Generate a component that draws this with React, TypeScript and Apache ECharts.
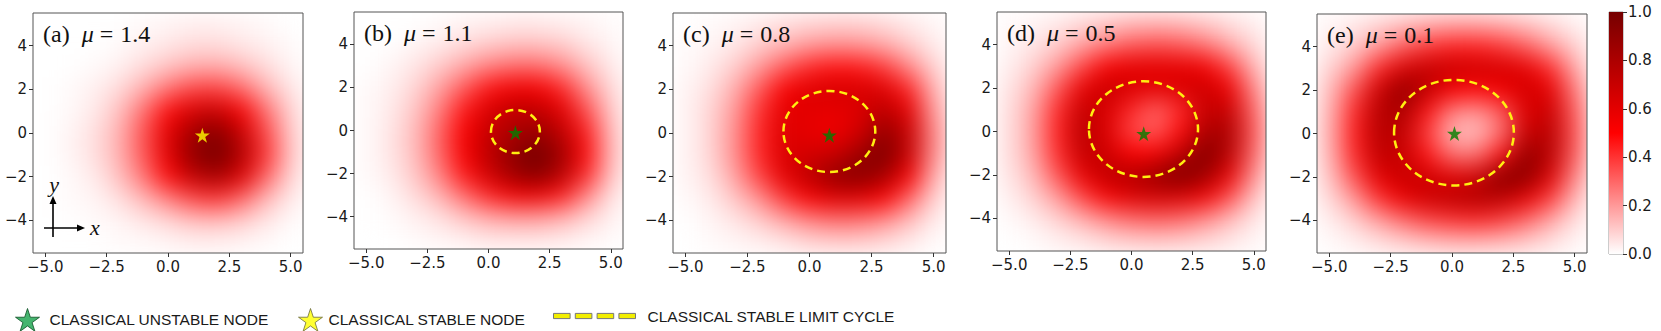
import React, { useEffect, useRef } from 'react';
import * as echarts from 'echarts';

// ---------- data ----------
const panelLabels = ['(a)', '(b)', '(c)', '(d)', '(e)'];
const muValues = ['1.4', '1.1', '0.8', '0.5', '0.1'];

const cellX = [-5, -4, -3, -2, -1, 0, 1, 2, 3, 4, 5];
const cellY = [5, 4, 3, 2, 1, 0, -1, -2, -3, -4, -5];

const xTicks = [-5, -2.5, 0, 2.5, 5];
const yTicks = [-4, -2, 0, 2, 4];
const colorbarTicks = [0, 0.2, 0.4, 0.6, 0.8, 1.0];

// rows: y = 5 ... -5, columns: x = -5 ... 5
const densityA = [
  [0, 0, 0, 0, 0.01, 0.02, 0.03, 0.03, 0.02, 0.01, 0],
  [0, 0, 0, 0.01, 0.03, 0.05, 0.07, 0.07, 0.05, 0.03, 0.01],
  [0, 0, 0.01, 0.03, 0.07, 0.12, 0.16, 0.17, 0.13, 0.07, 0.02],
  [0, 0.01, 0.03, 0.07, 0.16, 0.28, 0.37, 0.38, 0.3, 0.15, 0.05],
  [0, 0.01, 0.04, 0.12, 0.28, 0.48, 0.65, 0.7, 0.52, 0.28, 0.08],
  [0, 0.02, 0.06, 0.15, 0.34, 0.6, 0.84, 0.94, 0.7, 0.36, 0.1],
  [0, 0.02, 0.06, 0.15, 0.33, 0.6, 0.9, 1.0, 0.78, 0.4, 0.11],
  [0, 0.01, 0.04, 0.12, 0.27, 0.48, 0.72, 0.82, 0.62, 0.3, 0.08],
  [0, 0.01, 0.02, 0.06, 0.14, 0.25, 0.36, 0.4, 0.3, 0.14, 0.04],
  [0, 0, 0.01, 0.02, 0.05, 0.08, 0.12, 0.13, 0.1, 0.05, 0.01],
  [0, 0, 0, 0.01, 0.01, 0.02, 0.03, 0.03, 0.02, 0.01, 0],
];
const densityB = [
  [0, 0, 0, 0.01, 0.02, 0.03, 0.04, 0.04, 0.03, 0.02, 0.01],
  [0, 0, 0.02, 0.04, 0.07, 0.1, 0.12, 0.12, 0.1, 0.05, 0.02],
  [0, 0.02, 0.05, 0.1, 0.17, 0.24, 0.28, 0.28, 0.22, 0.12, 0.04],
  [0.01, 0.03, 0.08, 0.18, 0.32, 0.46, 0.54, 0.53, 0.42, 0.22, 0.07],
  [0.01, 0.04, 0.11, 0.25, 0.45, 0.63, 0.72, 0.72, 0.6, 0.34, 0.1],
  [0.01, 0.05, 0.13, 0.3, 0.52, 0.7, 0.8, 0.86, 0.72, 0.44, 0.13],
  [0.01, 0.05, 0.13, 0.3, 0.53, 0.74, 0.9, 1.0, 0.84, 0.48, 0.14],
  [0.01, 0.04, 0.11, 0.25, 0.46, 0.68, 0.86, 0.96, 0.77, 0.43, 0.12],
  [0, 0.02, 0.07, 0.15, 0.29, 0.43, 0.54, 0.56, 0.45, 0.24, 0.06],
  [0, 0.01, 0.03, 0.06, 0.12, 0.17, 0.2, 0.2, 0.16, 0.09, 0.03],
  [0, 0, 0.01, 0.02, 0.03, 0.05, 0.05, 0.05, 0.04, 0.02, 0.01],
];
const densityC = [
  [0, 0.01, 0.02, 0.04, 0.06, 0.08, 0.09, 0.09, 0.07, 0.04, 0.02],
  [0.01, 0.02, 0.05, 0.1, 0.15, 0.2, 0.22, 0.21, 0.17, 0.1, 0.04],
  [0.01, 0.04, 0.1, 0.2, 0.33, 0.43, 0.47, 0.46, 0.39, 0.24, 0.09],
  [0.02, 0.06, 0.16, 0.33, 0.52, 0.62, 0.65, 0.65, 0.62, 0.43, 0.15],
  [0.02, 0.08, 0.2, 0.41, 0.6, 0.6, 0.58, 0.62, 0.75, 0.6, 0.2],
  [0.02, 0.08, 0.22, 0.43, 0.62, 0.58, 0.55, 0.66, 0.9, 0.7, 0.24],
  [0.02, 0.08, 0.22, 0.43, 0.64, 0.66, 0.7, 0.86, 0.98, 0.7, 0.23],
  [0.02, 0.06, 0.18, 0.37, 0.6, 0.75, 0.9, 0.94, 0.82, 0.52, 0.16],
  [0.01, 0.04, 0.11, 0.22, 0.39, 0.52, 0.6, 0.6, 0.5, 0.3, 0.09],
  [0, 0.02, 0.05, 0.1, 0.17, 0.24, 0.28, 0.27, 0.22, 0.13, 0.04],
  [0, 0.01, 0.02, 0.03, 0.05, 0.08, 0.09, 0.09, 0.07, 0.04, 0.01],
];
const densityD = [
  [0.01, 0.02, 0.04, 0.07, 0.1, 0.13, 0.14, 0.13, 0.1, 0.06, 0.03],
  [0.02, 0.05, 0.1, 0.18, 0.26, 0.32, 0.34, 0.32, 0.26, 0.16, 0.07],
  [0.03, 0.09, 0.2, 0.36, 0.52, 0.59, 0.6, 0.59, 0.54, 0.37, 0.14],
  [0.05, 0.14, 0.33, 0.58, 0.7, 0.64, 0.6, 0.64, 0.68, 0.56, 0.23],
  [0.06, 0.18, 0.42, 0.72, 0.64, 0.42, 0.3, 0.42, 0.7, 0.7, 0.3],
  [0.06, 0.19, 0.44, 0.76, 0.62, 0.36, 0.32, 0.48, 0.8, 0.8, 0.33],
  [0.06, 0.18, 0.42, 0.72, 0.68, 0.5, 0.52, 0.72, 0.96, 0.76, 0.3],
  [0.05, 0.14, 0.34, 0.58, 0.74, 0.78, 0.88, 0.98, 0.86, 0.58, 0.22],
  [0.03, 0.09, 0.2, 0.37, 0.52, 0.62, 0.66, 0.64, 0.54, 0.35, 0.12],
  [0.01, 0.04, 0.09, 0.16, 0.24, 0.3, 0.32, 0.3, 0.23, 0.14, 0.05],
  [0, 0.01, 0.03, 0.05, 0.08, 0.1, 0.11, 0.1, 0.08, 0.05, 0.02],
];
const densityE = [
  [0.02, 0.04, 0.08, 0.12, 0.16, 0.18, 0.18, 0.16, 0.12, 0.07, 0.03],
  [0.04, 0.1, 0.2, 0.32, 0.4, 0.44, 0.44, 0.4, 0.32, 0.2, 0.09],
  [0.08, 0.2, 0.42, 0.64, 0.72, 0.7, 0.68, 0.66, 0.6, 0.42, 0.17],
  [0.12, 0.34, 0.68, 0.9, 0.72, 0.52, 0.48, 0.54, 0.66, 0.6, 0.26],
  [0.14, 0.42, 0.76, 0.8, 0.46, 0.24, 0.2, 0.32, 0.62, 0.7, 0.32],
  [0.15, 0.44, 0.76, 0.72, 0.38, 0.14, 0.12, 0.28, 0.7, 0.76, 0.34],
  [0.14, 0.42, 0.72, 0.7, 0.46, 0.28, 0.28, 0.48, 0.9, 0.76, 0.32],
  [0.11, 0.34, 0.6, 0.7, 0.68, 0.62, 0.68, 0.94, 0.92, 0.62, 0.24],
  [0.07, 0.2, 0.4, 0.57, 0.68, 0.74, 0.78, 0.74, 0.58, 0.38, 0.14],
  [0.03, 0.09, 0.18, 0.28, 0.36, 0.4, 0.42, 0.38, 0.29, 0.17, 0.06],
  [0.01, 0.03, 0.06, 0.09, 0.12, 0.14, 0.14, 0.13, 0.1, 0.06, 0.02],
];
const densities = [densityA, densityB, densityC, densityD, densityE];

// classical fixed point (star) in each panel
const nodeX = [1.4, 1.1, 0.8, 0.5, 0.1];
const nodeY = [-0.1, -0.1, -0.1, -0.1, 0.0];
const nodeStable = [true, false, false, false, false];

// classical stable limit cycle (panels b-e)
const cyclePanel = [1, 2, 3, 4];
const cycleCX = [1.1, 0.8, 0.49, 0.08];
const cycleCY = [-0.05, 0.07, 0.11, 0.04];
const cycleRX = [1.0, 1.85, 2.23, 2.44];
const cycleRY = [1.0, 1.86, 2.2, 2.43];

const legendNames = ['CLASSICAL UNSTABLE NODE', 'CLASSICAL STABLE NODE', 'CLASSICAL STABLE LIMIT CYCLE'];

// ---------- layout / style ----------
const W = 1661;
const H = 331;
const PANELS = [
  { left: 33, top: 13, width: 270, height: 240 },
  { left: 354, top: 12, width: 269, height: 237 },
  { left: 673, top: 13, width: 273, height: 240 },
  { left: 997, top: 12, width: 269, height: 239 },
  { left: 1317, top: 14, width: 270, height: 239 },
];
const CBAR = { left: 1609, top: 12, width: 14, height: 242 };
const COLORMAP = ['#ffffff', '#ff0000', '#760000'];
const STAR = 'path://M50 0L61.23 34.55L97.55 34.55L68.16 55.9L79.39 90.45L50 69.1L20.61 90.45L31.84 55.9L2.45 34.55L38.77 34.55Z';
const DASHES = 'path://M0 0h16v5H0zM21 0h16v5H21zM42 0h16v5H42zM63 0h16v5H63z';
const TICK_FONT = 'DejaVu Sans';
const SERIF = 'Liberation Serif';
const LEGEND_FONT = 'Liberation Sans';
const minus = (s: string) => s.replace('-', '\u2212');

function heatOption(): any {
  const grid = PANELS.map((p) => ({ ...p, show: false }));
  const xAxis = PANELS.map((_, i) => ({ type: 'value', gridIndex: i, min: -5.5, max: 5.5, show: false }));
  const yAxis = PANELS.map((_, i) => ({ type: 'value', gridIndex: i, min: -5.5, max: 5.5, show: false }));
  const series = densities.map((dens, i) => {
    const data: number[][] = [];
    dens.forEach((row, r) => row.forEach((v, c) => data.push([cellX[c], cellY[r], v])));
    return {
      type: 'custom',
      xAxisIndex: i,
      yAxisIndex: i,
      encode: { x: 0, y: 1 },
      data,
      renderItem: (params: any, api: any) => {
        const x = api.value(0);
        const y = api.value(1);
        const p0 = api.coord([x - 0.5, y + 0.5]);
        const p1 = api.coord([x + 0.5, y - 0.5]);
        return {
          type: 'rect',
          shape: { x: p0[0], y: p0[1], width: p1[0] - p0[0] + 0.6, height: p1[1] - p0[1] + 0.6 },
          style: { fill: api.visual('color') },
        };
      },
    };
  });
  return {
    animation: false,
    grid,
    xAxis,
    yAxis,
    visualMap: {
      type: 'continuous',
      show: false,
      min: 0,
      max: 1,
      dimension: 2,
      seriesIndex: [0, 1, 2, 3, 4],
      inRange: { color: COLORMAP },
    },
    series,
  };
}

function mainOption(): any {
  const labelStyle = { fontFamily: TICK_FONT, fontSize: 15, color: '#1a1a1a' };
  const grid: any[] = PANELS.map((p) => ({ ...p, show: true, borderColor: '#555', borderWidth: 1, backgroundColor: 'transparent' }));
  grid.push({ ...CBAR, show: true, borderColor: '#999', borderWidth: 1, backgroundColor: 'transparent' });
  const xAxis: any[] = PANELS.map((_, i) => ({
    type: 'value', gridIndex: i, min: -5.5, max: 5.5, position: 'bottom',
    axisLine: { show: false, onZero: false }, splitLine: { show: false },
    axisTick: { show: true, length: 4, customValues: xTicks, lineStyle: { color: '#333' } },
    axisLabel: { ...labelStyle, margin: 6, customValues: xTicks, formatter: (v: number) => minus(v.toFixed(1)) },
  }));
  xAxis.push({ type: 'value', gridIndex: 5, min: 0, max: 1, show: false });
  const yAxis: any[] = PANELS.map((_, i) => ({
    type: 'value', gridIndex: i, min: -5.5, max: 5.5, position: 'left',
    axisLine: { show: false, onZero: false }, splitLine: { show: false },
    axisTick: { show: true, length: 4, customValues: yTicks, lineStyle: { color: '#333' } },
    axisLabel: { ...labelStyle, margin: 6, customValues: yTicks, formatter: (v: number) => minus(String(v)) },
  }));
  yAxis.push({
    type: 'value', gridIndex: 5, position: 'right', min: 0, max: 1, interval: 0.2,
    axisLine: { show: false, onZero: false }, splitLine: { show: false },
    axisTick: { show: true, length: 4, lineStyle: { color: '#333' } },
    axisLabel: { ...labelStyle, margin: 5, customValues: colorbarTicks, formatter: (v: number) => v.toFixed(1) },
  });

  const series: any[] = [];
  cyclePanel.forEach((pi, k) => {
    series.push({
      name: legendNames[2],
      type: 'custom',
      xAxisIndex: pi,
      yAxisIndex: pi,
      encode: { x: 0, y: 1 },
      z: 4,
      data: [[cycleCX[k], cycleCY[k], cycleRX[k], cycleRY[k]]],
      itemStyle: { color: '#ffee11' },
      renderItem: (params: any, api: any) => {
        const c = api.coord([api.value(0), api.value(1)]);
        const s = api.size([api.value(2), api.value(3)]);
        return {
          type: 'ellipse',
          shape: { cx: c[0], cy: c[1], rx: s[0], ry: s[1] },
          style: { fill: 'none', stroke: '#ffee11', lineWidth: 2.5, lineDash: [8, 5] },
        };
      },
    });
  });
  nodeX.forEach((x, i) => {
    series.push({
      name: nodeStable[i] ? legendNames[1] : legendNames[0],
      type: 'scatter',
      xAxisIndex: i,
      yAxisIndex: i,
      z: 5,
      symbol: STAR,
      symbolSize: 15,
      data: [[x, nodeY[i]]],
      itemStyle: { color: nodeStable[i] ? '#ffff00' : '#008000' },
    });
  });
  series.push({
    type: 'custom',
    xAxisIndex: 5,
    yAxisIndex: 5,
    encode: { x: 0, y: 1 },
    data: [[0, 0, 1, 1]],
    renderItem: (params: any, api: any) => {
      const p0 = api.coord([api.value(0), api.value(3)]);
      const p1 = api.coord([api.value(2), api.value(1)]);
      return {
        type: 'rect',
        shape: { x: p0[0], y: p0[1], width: p1[0] - p0[0], height: p1[1] - p0[1] },
        style: {
          fill: new echarts.graphic.LinearGradient(0, 0, 0, 1, [
            { offset: 0, color: COLORMAP[2] },
            { offset: 0.5, color: COLORMAP[1] },
            { offset: 1, color: COLORMAP[0] },
          ]),
        },
      };
    },
  });

  const serifBase = { fontFamily: SERIF, fontSize: 24, fontWeight: 'normal', color: '#111' };
  const title = PANELS.map((p, i) => ({
    text: `{n|${panelLabels[i]}}{m|\u03bc}{e|=}{v|${muValues[i]}}`,
    left: p.left + 10,
    top: p.top + 9,
    padding: 0,
    textStyle: {
      fontWeight: 'normal',
      rich: {
        n: { ...serifBase },
        m: { ...serifBase, fontStyle: 'italic', padding: [0, 0, 0, 12] },
        e: { ...serifBase, padding: [0, 0, 0, 6] },
        v: { ...serifBase, padding: [0, 0, 0, 7] },
      },
    },
  }));

  const legendText = { fontFamily: LEGEND_FONT, fontSize: 15.5, color: '#1a1a1a' };
  const legend = [
    {
      data: [{ name: legendNames[0], icon: STAR, itemStyle: { color: '#17a24b', borderColor: '#0b4d22', borderWidth: 1 } }],
      left: 10, top: 303, itemWidth: 24, itemHeight: 23, selectedMode: false,
      textStyle: { ...legendText, padding: [0, 0, 0, 5] },
    },
    {
      data: [{ name: legendNames[1], icon: STAR, itemStyle: { color: '#ffff00', borderColor: '#6a6a3a', borderWidth: 1 } }],
      left: 293, top: 303, itemWidth: 24, itemHeight: 23, selectedMode: false,
      textStyle: { ...legendText, padding: [0, 0, 0, 1] },
    },
    {
      data: [{ name: legendNames[2], icon: DASHES, itemStyle: { color: '#f2ee00', borderColor: '#777', borderWidth: 1 } }],
      left: 548, top: 303, itemWidth: 82, itemHeight: 23, selectedMode: false,
      textStyle: { ...legendText, padding: [0, 0, 0, 7] },
    },
  ];

  const a = PANELS[0];
  const vx = a.left + 20;
  const hy = a.top + 215;
  const graphic = [
    { type: 'line', shape: { x1: vx, y1: a.top + 224, x2: vx, y2: a.top + 189 }, style: { stroke: '#000', lineWidth: 1.6 } },
    { type: 'polygon', shape: { points: [[vx, a.top + 183], [vx - 3.5, a.top + 191], [vx + 3.5, a.top + 191]] }, style: { fill: '#000' } },
    { type: 'line', shape: { x1: a.left + 11, y1: hy, x2: a.left + 46, y2: hy }, style: { stroke: '#000', lineWidth: 1.6 } },
    { type: 'polygon', shape: { points: [[a.left + 52, hy], [a.left + 44, hy - 3.5], [a.left + 44, hy + 3.5]] }, style: { fill: '#000' } },
    { type: 'text', x: vx + 1, y: a.top + 171, style: { text: 'y', font: `italic 22px ${SERIF}`, fill: '#111', align: 'center', verticalAlign: 'middle' } },
    { type: 'text', x: a.left + 57, y: hy - 1, style: { text: 'x', font: `italic 22px ${SERIF}`, fill: '#111', align: 'left', verticalAlign: 'middle' } },
  ];

  return { animation: false, grid, xAxis, yAxis, series, title, legend, graphic };
}

export default function App() {
  const bgRef = useRef<HTMLDivElement>(null);
  const fgRef = useRef<HTMLDivElement>(null);
  useEffect(() => {
    const bg = echarts.init(bgRef.current!, undefined, { renderer: 'svg' });
    bg.setOption(heatOption());
    const fg = echarts.init(fgRef.current!, undefined, { renderer: 'svg' });
    fg.setOption(mainOption());
    return () => {
      bg.dispose();
      fg.dispose();
    };
  }, []);
  const clip = PANELS.map((p) => `M${p.left} ${p.top}h${p.width}v${p.height}h${-p.width}Z`).join(' ');
  return (
    <div style={{ position: 'fixed', left: 0, top: 0, width: W, height: H, background: '#fff' }}>
      <div style={{ position: 'absolute', left: 0, top: 0, width: W, height: H, clipPath: `path('${clip}')` }}>
        <div ref={bgRef} style={{ width: W, height: H, filter: 'blur(12px)' }} />
      </div>
      <div ref={fgRef} style={{ position: 'absolute', left: 0, top: 0, width: W, height: H }} />
    </div>
  );
}
